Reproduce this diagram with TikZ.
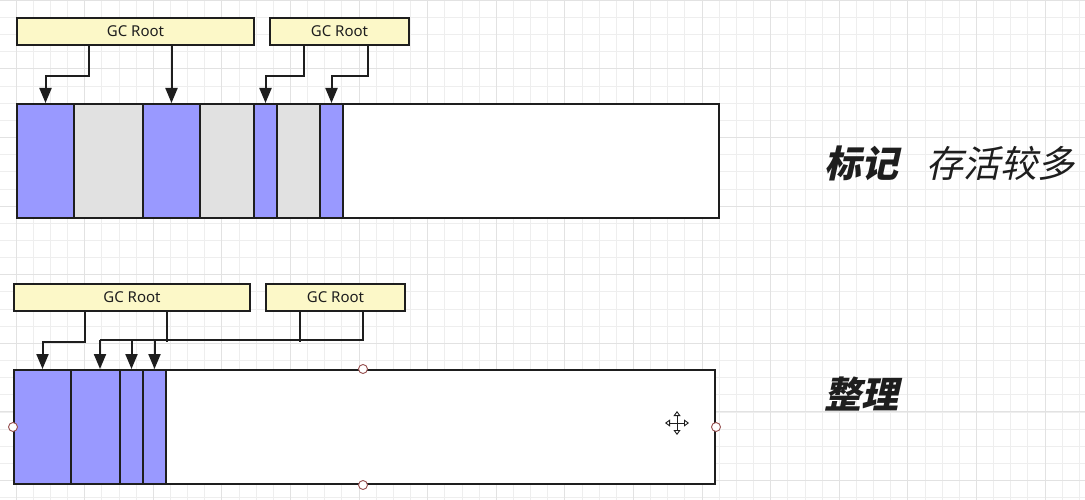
\documentclass[tikz,border=0pt]{standalone}
\usepackage{fontspec}
\setmainfont{Noto Sans}
\newfontfamily\cjk{Noto Sans CJK SC}[FakeSlant=0.22]
\usetikzlibrary{arrows.meta}
\definecolor{live}{RGB}{153,153,255}
\definecolor{dead}{RGB}{225,225,225}
\definecolor{rootfill}{RGB}{252,248,200}
\definecolor{ink}{RGB}{30,30,30}
\definecolor{gridminor}{RGB}{238,238,238}
\definecolor{gridmajor}{RGB}{226,226,226}
\definecolor{handle}{RGB}{150,80,80}
\tikzset{
  root/.style={draw=ink, line width=2pt, fill=rootfill, anchor=north west, inner sep=0pt,
    minimum height=27pt, font=\fontsize{15}{17}\selectfont, text=ink},
  seg/.style={draw=ink, line width=2pt, anchor=north west, inner sep=0pt, minimum height=114pt},
  conn/.style={draw=ink, line width=2pt},
  arr/.style={conn, -{Triangle[width=12pt,length=15pt]}},
  hdl/.style={circle, draw=handle, fill=white, line width=0.9pt, minimum size=9pt, inner sep=0pt},
  lbl/.style={anchor=west, text=ink, inner sep=0pt},
}
\begin{document}
\begin{tikzpicture}[x=1pt,y=-1pt]
\fill[white] (0,0) rectangle (1085,500);
\useasboundingbox (0,0) rectangle (1085,500);
% grid
\foreach \i in {0,...,64} {\draw[gridminor, line width=0.8pt] ({-1.15+17.15*\i},0) -- ({-1.15+17.15*\i},500);}
\foreach \i in {0,...,30} {\draw[gridminor, line width=0.8pt] (0,{0.3+17.15*\i}) -- (1085,{0.3+17.15*\i});}
\foreach \i in {0,...,15} {\draw[gridmajor, line width=0.9pt] ({16+68.6*\i},0) -- ({16+68.6*\i},500);}
\foreach \i in {0,...,7} {\draw[gridmajor, line width=0.9pt] (0,{0.3+68.6*\i}) -- (1085,{0.3+68.6*\i});}

% ---------- top: mark ----------
\node[root, minimum width=237pt] (r1) at (16,17) {GC Root};
\node[root, minimum width=139pt] (r2) at (269,17) {GC Root};

\node[seg, fill=white, minimum width=702pt] (bar1) at (16,103) {};
\node[seg, fill=live, minimum width=57pt] (a1) at (16,103) {};
\node[seg, fill=dead, minimum width=69pt] (g1) at (73,103) {};
\node[seg, fill=live, minimum width=57pt] (a2) at (142,103) {};
\node[seg, fill=dead, minimum width=54pt] (g2) at (199,103) {};
\node[seg, fill=live, minimum width=23pt] (a3) at (253,103) {};
\node[seg, fill=dead, minimum width=43pt] (g3) at (276,103) {};
\node[seg, fill=live, minimum width=23pt] (a4) at (319,103) {};

\draw[arr] ([xshift=73pt]r1.south west) -- ++(0,30) -| (a1.north);
\draw[arr] (a2.north |- r1.south) -- (a2.north);
\draw[arr] ([xshift=35pt]r2.south west) -- ++(0,30) -| (a3.north);
\draw[arr] ([xshift=99pt]r2.south west) -- ++(0,30) -| (a4.north);

\node[lbl, font=\cjk\bfseries\fontsize{37}{40}\selectfont] (t1) at (824,163) {标记};
\node[lbl, font=\cjk\fontsize{37}{40}\selectfont] (t2) at (926,163) {存活较多};

% ---------- bottom: compact ----------
\node[root, minimum width=236pt] (r3) at (13,283) {GC Root};
\node[root, minimum width=139pt] (r4) at (265,283) {GC Root};

\node[seg, fill=white, minimum width=701pt] (bar2) at (13,369) {};
\node[seg, fill=live, minimum width=57pt] (c1) at (13,369) {};
\node[seg, fill=live, minimum width=49pt] (c2) at (70,369) {};
\node[seg, fill=live, minimum width=23pt] (c3) at (119,369) {};
\node[seg, fill=live, minimum width=23pt] (c4) at (142,369) {};

\coordinate (jL) at ([xshift=4.5pt]c2.north |- 0,340);
\coordinate (jR) at (363,340);
\draw[arr] ([xshift=72pt]r3.south west) -- ++(0,30) -| (c1.north);
\draw[conn] ([xshift=154pt]r3.south west) -- ++(0,30);
\draw[conn] ([xshift=35pt]r4.south west) -- ++(0,30);
\draw[conn] (jR |- r4.south) -- (jR) -- (jL);
\draw[arr] (jL) -- ([xshift=4.5pt]c2.north);
\draw[arr] (c3.north |- jL) -- (c3.north);
\draw[arr] (c4.north |- jL) -- (c4.north);

\node[lbl, font=\cjk\bfseries\fontsize{37}{40}\selectfont] (t3) at (824,394) {整理};

% selection handles
\node[hdl] (h1) at (bar2.north -| jR) {};
\node[hdl] (h2) at (bar2.south -| jR) {};
\node[hdl] (h3) at (bar2.west) {};
\node[hdl] (h4) at (bar2.east) {};

% move cursor
\coordinate (cur) at (677,423);
\foreach \a in {0,90,180,270} {
  \draw[ink, line width=0.9pt, -{Triangle[open,width=7pt,length=5pt]}] (cur) -- ++(\a:12);
}
\end{tikzpicture}
\end{document}
